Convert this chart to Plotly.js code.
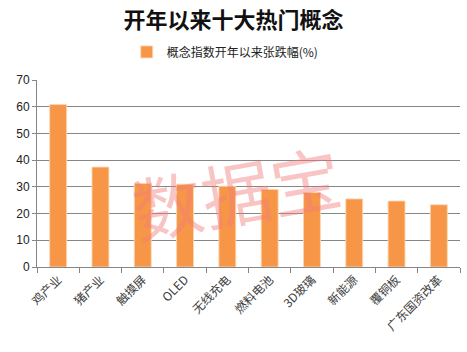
<!DOCTYPE html>
<html>
<head>
<meta charset="utf-8">
<script src="https://cdn.plot.ly/plotly-3.0.1.min.js"></script>
<style>html,body{margin:0;padding:0;background:#fff;}#chart{width:467px;height:352px;}</style>
</head>
<body>
<div id="chart"></div>
<script>
const categories = ["鸡产业","猪产业","触摸屏","OLED","无线充电","燃料电池","3D玻璃","新能源","覆铜板","广东国资改革"];
const changePct = [60.8, 37.4, 31.3, 31.0, 30.2, 29.0, 27.9, 25.5, 24.7, 23.3];
const seriesName = "概念指数开年以来张跌幅(%)";
const titleText = "开年以来十大热门概念";
const watermark = "数据宝";
const yTicks = [0,10,20,30,40,50,60,70];

const trace = {
  type: "bar",
  x: categories,
  y: changePct,
  name: seriesName,
  width: 0.4,
  marker: {color: "#F79646", line: {color: "rgba(250,215,180,0.9)", width: 1}},
  hoverinfo: "x+y"
};

const layout = {
  width: 467, height: 352,
  margin: {l: 37, r: 7, t: 80, b: 85},
  paper_bgcolor: "#fff", plot_bgcolor: "#fff",
  showlegend: true,
  title: {text: titleText, x: 0.5, xanchor: "center", yref: "container", y: 0.965, yanchor: "top",
    font: {family: "Noto Sans CJK SC", size: 22, color: "#111", weight: 700}},
  legend: {orientation: "h", x: 0.445, xanchor: "center", y: 1.15, yanchor: "middle",
    font: {family: "Noto Sans CJK SC", size: 12, color: "#222"}, itemwidth: 30},
  xaxis: {
    type: "category",
    tickson: "boundaries",
    ticks: "outside", ticklen: 5, tickcolor: "#868686",
    showgrid: false,
    showline: true, linecolor: "#868686", linewidth: 1,
    tickangle: -45,
    tickfont: {family: "Noto Sans CJK SC", size: 12, color: "#404040"}
  },
  yaxis: {
    range: [0, 70],
    tickvals: yTicks,
    ticks: "outside", ticklen: 4, tickcolor: "#868686",
    showgrid: true, gridcolor: "#868686", gridwidth: 1,
    showline: true, linecolor: "#868686",
    zeroline: false,
    tickfont: {family: "Liberation Sans", size: 12, color: "#222"}
  },
  bargap: 0.6,
  annotations: [{
    text: watermark, xref: "paper", yref: "paper", x: 0.47, y: 0.41,
    showarrow: false, textangle: -10,
    font: {family: "Noto Sans CJK SC", size: 70, color: "rgba(240,125,125,0.45)"}
  }]
};

Plotly.newPlot("chart", [trace], layout, {displayModeBar: false, staticPlot: true});
</script>
</body>
</html>
